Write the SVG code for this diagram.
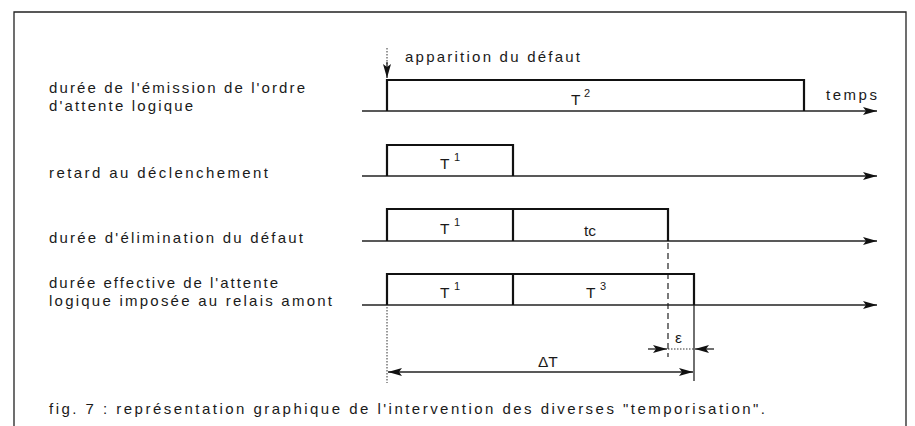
<svg xmlns="http://www.w3.org/2000/svg" width="915" height="426" viewBox="0 0 915 426">
<style>
text{font-family:"Liberation Sans",Arial,sans-serif;fill:#1a1a1a}
.lbl{font-size:15px}
.sym{font-size:15.5px}
.sup{font-size:11px}
.base{stroke:#222;stroke-width:1.3;fill:none}
.pulse{stroke:#111;stroke-width:2.2;fill:none}
.frame{stroke:#222;stroke-width:1.3;fill:none}
.dot{stroke:#333;stroke-width:1;stroke-dasharray:1.5 1.5;fill:none}
.dash{stroke:#222;stroke-width:1.2;stroke-dasharray:6 4;fill:none}
</style>
<defs>
<marker id="ah" viewBox="0 0 14 8" refX="14" refY="4" markerWidth="14" markerHeight="8" markerUnits="userSpaceOnUse" orient="auto">
<path d="M0,0 L14,4 L0,8 L3,4 Z" fill="#111"/>
</marker>
</defs>
<rect width="915" height="426" fill="#fff"/>
<g id="frame">
<path class="frame" d="M14,426 V12 H906 V426"/>
</g>
<g id="labels">
<text class="lbl" x="49" y="93" textLength="256" lengthAdjust="spacing">durée de l'émission de l'ordre</text>
<text class="lbl" x="49" y="111" textLength="144" lengthAdjust="spacing">d'attente logique</text>
<text class="lbl" x="49" y="178" textLength="219" lengthAdjust="spacing">retard au déclenchement</text>
<text class="lbl" x="49" y="243" textLength="254" lengthAdjust="spacing">durée d'élimination du défaut</text>
<text class="lbl" x="49" y="288" textLength="229" lengthAdjust="spacing">durée effective de l'attente</text>
<text class="lbl" x="49" y="306" textLength="283" lengthAdjust="spacing">logique imposée au relais amont</text>
<text class="lbl" x="49" y="414" textLength="716" lengthAdjust="spacing">fig. 7 : représentation graphique de l'intervention des diverses "temporisation".</text>
</g>
<g id="connectors">
<line class="base" x1="362" y1="111" x2="877" y2="111" marker-end="url(#ah)"/>
<line class="base" x1="362" y1="176" x2="877" y2="176" marker-end="url(#ah)"/>
<line class="base" x1="362" y1="241" x2="877" y2="241" marker-end="url(#ah)"/>
<line class="base" x1="362" y1="305" x2="877" y2="305" marker-end="url(#ah)"/>
<line class="dot" x1="387" y1="48" x2="387" y2="64"/>
<line class="base" x1="387" y1="62" x2="387" y2="78" marker-end="url(#ah)"/>
<line class="dash" x1="668" y1="243" x2="668" y2="357"/>
<line class="base" x1="694" y1="305" x2="694" y2="381"/>
<line class="dot" x1="387" y1="307" x2="387" y2="383"/>
<line class="dot" x1="668" y1="349" x2="694" y2="349"/>
<line class="base" x1="648" y1="349" x2="667" y2="349" marker-end="url(#ah)"/>
<line class="base" x1="714" y1="349" x2="695" y2="349" marker-end="url(#ah)"/>
<line class="base" x1="540" y1="372" x2="388" y2="372" marker-end="url(#ah)"/>
<line class="base" x1="540" y1="372" x2="693" y2="372" marker-end="url(#ah)"/>
</g>
<g id="emission">
<path class="pulse" d="M387,111 V80 H804 V111"/>
<text class="sym" x="571" y="105">T</text><text class="sup" x="584" y="97">2</text>
<text class="lbl" x="405" y="62" textLength="175" lengthAdjust="spacing">apparition du défaut</text>
<text class="lbl" x="826" y="100" textLength="51" lengthAdjust="spacing">temps</text>
</g>
<g id="retard">
<path class="pulse" d="M387,176 V145 H513 V176"/>
<text class="sym" x="440" y="169">T</text><text class="sup" x="454" y="161">1</text>
</g>
<g id="elimination">
<path class="pulse" d="M387,241 V209 H668 V241 M513,209 V241"/>
<text class="sym" x="440" y="234">T</text><text class="sup" x="454" y="226">1</text>
<text class="sym" x="584" y="236">tc</text>
</g>
<g id="effective">
<path class="pulse" d="M387,305 V274 H694 V305 M513,274 V305"/>
<text class="sym" x="440" y="298">T</text><text class="sup" x="454" y="290">1</text>
<text class="sym" x="586" y="298">T</text><text class="sup" x="600" y="290">3</text>
</g>
<g id="epsilon">
<text class="sym" x="675" y="343">ε</text>
</g>
<g id="deltaT">
<text class="sym" x="538" y="367">ΔT</text>
</g>
</svg>
